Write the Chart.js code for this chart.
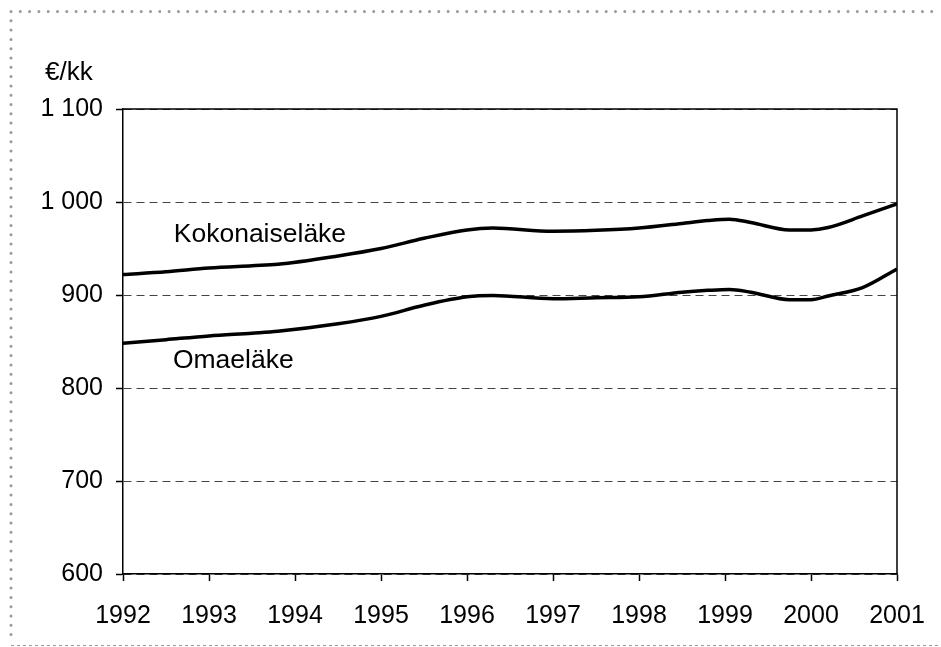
<!DOCTYPE html>
<html>
<head>
<meta charset="utf-8">
<script src="https://cdn.jsdelivr.net/npm/chart.js@4/dist/chart.umd.min.js"></script>
<style>
  html, body { margin: 0; padding: 0; background: #fff; }
  #wrap { width: 941px; height: 647px; }
</style>
</head>
<body>
<div id="wrap"><canvas id="myChart" width="941" height="647"></canvas></div>
<script>
// Aika (vuosi) ja sarjat, luettu kuvasta
var times = [1992, 1992.5, 1993, 1993.5, 1993.8, 1994.5, 1995, 1995.5, 1996, 1996.3,
             1997, 1997.5, 1998, 1998.5, 1998.8, 1999.05, 1999.3, 1999.75, 2000, 2000.2, 2000.6, 2001];
var kokonaiselake = [922, 925, 929, 931.5, 933, 942, 950, 961, 970, 972,
                     968.5, 969.5, 972, 977, 980, 981.5, 978, 970, 970, 972.5, 985, 998];
var omaelake = [848, 852, 856, 859, 861, 869, 877, 889, 898, 899.5,
                896, 897, 898, 903, 905, 906, 903, 895, 895, 899, 908, 928];

var yTicks = [600, 700, 800, 900, 1000, 1100];
var xYears = [1992, 1993, 1994, 1995, 1996, 1997, 1998, 1999, 2000, 2001];
var unitLabel = "€/kk";
var seriesLabels = [
    { text: "Kokonaiseläke", x: 1992.59, y: 957 },
    { text: "Omaeläke", x: 1992.58, y: 821 }
];

var FONT = "'Liberation Sans', Arial, sans-serif";

function toPoints(vals) {
    var out = [];
    for (let i = 0; i < vals.length; i++) out.push({ x: times[i], y: vals[i] });
    return out;
}

function fmt(v) {
    return String(v).replace(/\B(?=(\d{3})+(?!\d))/g, " ");
}

// reunat, kehys ja tekstit
var extras = {
    id: "extras",
    beforeDraw(chart) {
        const c = chart.ctx;
        c.save();
        c.fillStyle = "#fff";
        c.fillRect(0, 0, chart.width, chart.height);
        // pisteviiva ylhäällä ja vasemmalla
        c.strokeStyle = "#999";
        c.lineWidth = 3;
        c.lineCap = "round";
        c.setLineDash([0, 9.3]);
        c.beginPath();
        c.moveTo(11, 11.5); c.lineTo(940, 11.5);
        c.moveTo(11, 11.5); c.lineTo(11, 640);
        c.stroke();
        // katkoviiva alhaalla
        c.lineWidth = 1;
        c.lineCap = "butt";
        c.setLineDash([3, 3]);
        c.beginPath();
        c.moveTo(11, 645.5); c.lineTo(941, 645.5);
        c.stroke();
        c.restore();
    },
    afterDatasetsDraw(chart) {
        const c = chart.ctx;
        const a = chart.chartArea;
        const xs = chart.scales.x, ys = chart.scales.y;
        c.save();
        c.strokeStyle = "#000";
        c.lineWidth = 1.5;
        c.beginPath();
        c.moveTo(a.left, a.top); c.lineTo(a.right, a.top); c.lineTo(a.right, a.bottom);
        c.stroke();
        c.fillStyle = "#000";
        c.font = "26px " + FONT;
        c.textBaseline = "alphabetic";
        c.textAlign = "left";
        c.fillText(unitLabel, 45, 80);
        c.font = "26.5px " + FONT;
        for (const l of seriesLabels) {
            c.fillText(l.text, xs.getPixelForValue(l.x), ys.getPixelForValue(l.y));
        }
        c.restore();
    }
};

var ctx = document.getElementById("myChart").getContext("2d");
var myChart = new Chart(ctx, {
    type: "line",
    data: {
        datasets: [{
            label: "Kokonaiseläke",
            data: toPoints(kokonaiselake),
            borderColor: "#000",
            borderWidth: 3.5,
            pointRadius: 0,
            cubicInterpolationMode: "monotone"
        }, {
            label: "Omaeläke",
            data: toPoints(omaelake),
            borderColor: "#000",
            borderWidth: 3.5,
            pointRadius: 0,
            cubicInterpolationMode: "monotone"
        }]
    },
    options: {
        responsive: false,
        animation: false,
        layout: { padding: { left: 0, top: 109, right: 44, bottom: 0 } },
        scales: {
            x: {
                type: "linear",
                min: xYears[0],
                max: xYears[xYears.length - 1],
                afterBuildTicks(s) { s.ticks = xYears.map(v => ({ value: v })); },
                afterFit(s) {
                    s.height = 647 - 574;
                    s.paddingLeft = 0;
                    s.paddingRight = 0;
                },
                ticks: {
                    color: "#000",
                    font: { family: FONT, size: 25 },
                    padding: 20,
                    maxRotation: 0,
                    autoSkip: false,
                    callback: v => String(v)
                },
                grid: { drawOnChartArea: false, tickLength: 7, tickColor: "#000", tickWidth: 1.5 },
                border: { color: "#000", width: 1.5 }
            },
            y: {
                min: yTicks[0],
                max: yTicks[yTicks.length - 1],
                afterBuildTicks(s) { s.ticks = yTicks.map(v => ({ value: v })); },
                afterFit(s) { s.width = 123; },
                ticks: {
                    color: "#000",
                    font: { family: FONT, size: 25 },
                    padding: 13,
                    callback: v => fmt(v)
                },
                grid: { color: "#444", lineWidth: 1, tickLength: 7, tickColor: "#000", tickWidth: 1.5 },
                border: { color: "#000", width: 1.5, dash: [8, 5] }
            }
        },
        plugins: {
            legend: { display: false },
            tooltip: { enabled: false }
        }
    },
    plugins: [extras]
});
</script>
</body>
</html>
